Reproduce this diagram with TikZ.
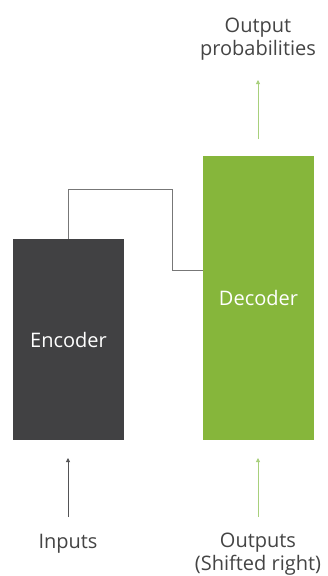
\documentclass[tikz,border=0pt]{standalone}
\usepackage{fontspec}
\setmainfont{Open Sans}
\usetikzlibrary{arrows.meta}
\definecolor{encgray}{HTML}{414143}
\definecolor{decgreen}{HTML}{86B63B}
\definecolor{lightgreen}{HTML}{A8D07C}
\definecolor{txtgray}{HTML}{444444}
\definecolor{linegray}{HTML}{777777}
\begin{document}
\begin{tikzpicture}[x=1pt,y=-1pt,
  block/.style={draw=none,minimum width=111pt,inner sep=0pt,font=\fontsize{20}{24}\selectfont,text=white},
  lbl/.style={font=\fontsize{20}{23}\selectfont,text=txtgray,align=center,inner sep=0pt},
  darrow/.style={draw=encgray!90,line width=0.8pt,-{Triangle[length=4pt,width=4pt]}},
  garrow/.style={draw=lightgreen,line width=0.8pt,-{Triangle[length=4pt,width=4pt]}},
  conn/.style={draw=linegray,line width=0.8pt}]
\useasboundingbox (0,0) rectangle (327,576);
\node[block,fill=encgray,minimum height=201pt] (enc) at (68.5,339.5) {Encoder};
\node[block,fill=decgreen,minimum height=284pt] (dec) at (258.5,298) {Decoder};
\node[lbl] (out) at (258,39) {Output\\probabilities};
\node[lbl] (inp) at (68,544) {Inputs};
\node[lbl] (outs) at (258,554.5) {Outputs\\(Shifted right)};
\coordinate (a1) at (68,517);
\coordinate (a2) at (258,517);
\coordinate (a3) at (258,139);
\coordinate (c1) at (68,189);
\coordinate (c2) at (172,189);
\coordinate (c3) at (172,270);
\draw[darrow] (a1) -- (68,458);
\draw[garrow] (a2) -- (258,458);
\draw[garrow] (a3) -- (258,80);
\draw[conn] (enc.north -| c1) -- (c1) -- (c2) -- (c3) -- (c3 -| dec.west);
\end{tikzpicture}
\end{document}
